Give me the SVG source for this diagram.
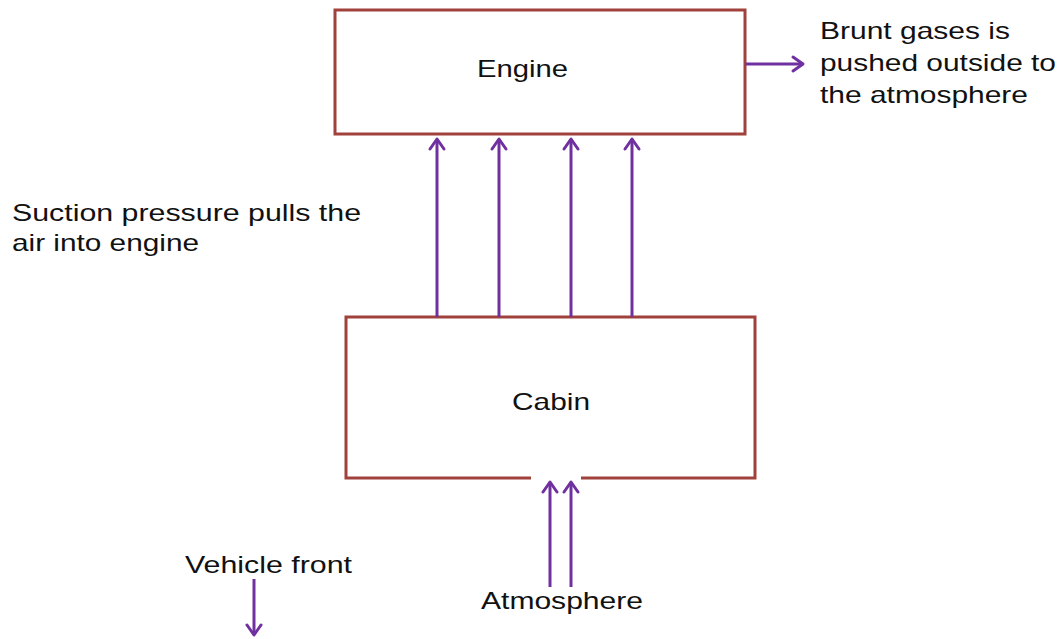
<svg xmlns="http://www.w3.org/2000/svg" width="1064" height="639" viewBox="0 0 1064 639">
<style>
.box{fill:#fff;stroke:#A0413C;stroke-width:3}
.t{font-family:"Liberation Sans",Arial,sans-serif;font-size:24px;fill:#111}
.c{stroke:#7030A0;stroke-width:3;fill:none}
.h{stroke:#7030A0;stroke-width:3;fill:none;stroke-linecap:round;stroke-linejoin:round}
</style>
<rect width="1064" height="639" fill="#fff"/>
<g id="engine">
<rect class="box" x="335" y="10" width="410" height="124"/>
<text class="t" x="477" y="77" textLength="91" lengthAdjust="spacingAndGlyphs">Engine</text>
</g>
<g id="cabin">
<path class="box" style="fill:none" d="M531,478 H346 V317 H755 V478 H581"/>
<text class="t" x="512" y="410" textLength="78" lengthAdjust="spacingAndGlyphs">Cabin</text>
</g>
<g id="labels">
<text class="t" x="820" y="39" textLength="190" lengthAdjust="spacingAndGlyphs">Brunt gases is</text>
<text class="t" x="820" y="71" textLength="236" lengthAdjust="spacingAndGlyphs">pushed outside to</text>
<text class="t" x="820" y="103" textLength="208" lengthAdjust="spacingAndGlyphs">the atmosphere</text>
<text class="t" x="12" y="221" textLength="349" lengthAdjust="spacingAndGlyphs">Suction pressure pulls the</text>
<text class="t" x="12" y="251" textLength="187" lengthAdjust="spacingAndGlyphs">air into engine</text>
<text class="t" x="185" y="573" textLength="167" lengthAdjust="spacingAndGlyphs">Vehicle front</text>
<text class="t" x="481" y="609" textLength="162" lengthAdjust="spacingAndGlyphs">Atmosphere</text>
</g>
<g id="connectors">
<path class="c" d="M746,64 H803"/><path class="h" d="M793,57 L803,64 L793,71"/>
<path class="c" d="M437,317 V139"/><path class="h" d="M430,149 L437,139 L444,149"/>
<path class="c" d="M499,317 V139"/><path class="h" d="M492,149 L499,139 L506,149"/>
<path class="c" d="M571,317 V139"/><path class="h" d="M564,149 L571,139 L578,149"/>
<path class="c" d="M632,317 V139"/><path class="h" d="M625,149 L632,139 L639,149"/>
<path class="c" d="M550,587 V482"/><path class="h" d="M543,492 L550,482 L557,492"/>
<path class="c" d="M571,587 V482"/><path class="h" d="M564,492 L571,482 L578,492"/>
<path class="c" d="M254,579 V635"/><path class="h" d="M247,625 L254,635 L261,625"/>
</g>
</svg>
